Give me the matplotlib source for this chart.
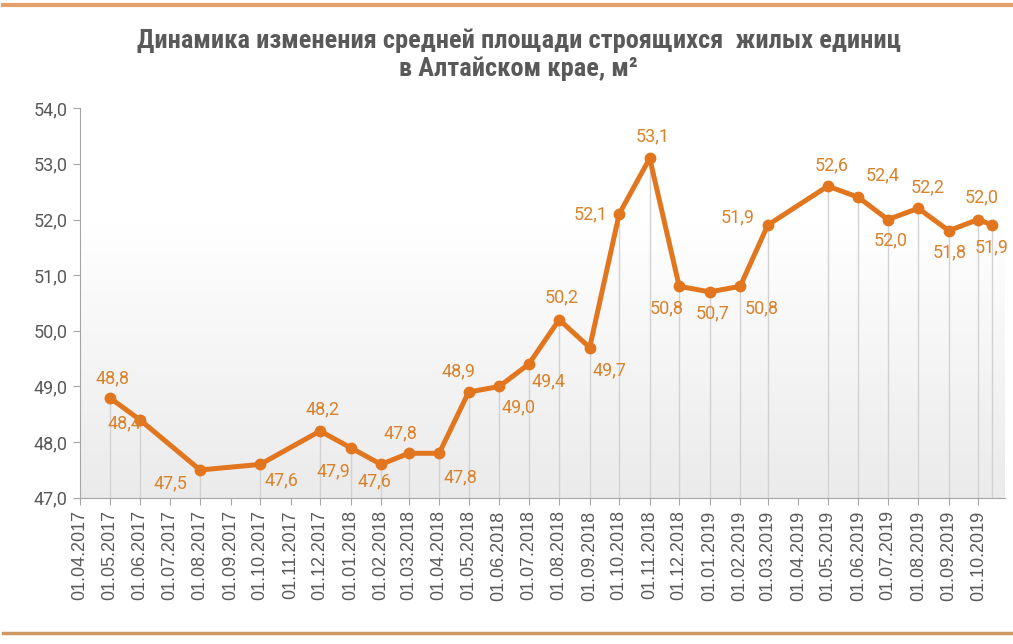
import matplotlib.pyplot as plt
import matplotlib.dates as mdates
import numpy as np
import pandas as pd

dates = ['2017-05-01', '2017-06-01', '2017-08-01', '2017-10-01', '2017-12-01',
         '2018-01-01', '2018-02-01', '2018-03-01', '2018-04-01', '2018-05-01',
         '2018-06-01', '2018-07-01', '2018-08-01', '2018-09-01', '2018-10-01',
         '2018-11-01', '2018-12-01', '2019-01-01', '2019-02-01', '2019-03-01',
         '2019-05-01', '2019-06-01', '2019-07-01', '2019-08-01', '2019-09-01',
         '2019-10-01', '2019-10-15']
values = [48.8, 48.4, 47.5, 47.6, 48.2,
          47.9, 47.6, 47.8, 47.8, 48.9,
          49.0, 49.4, 50.2, 49.7, 52.1,
          53.1, 50.8, 50.7, 50.8, 51.9,
          52.6, 52.4, 52.0, 52.2, 51.8,
          52.0, 51.9]
# label offsets in pixels (dx, dy), positive dy = up
offsets = [(3, 19), (-15, -3), (-30, -13), (21, -16), (2, 22),
           (-17, -24), (-7, -17), (-8, 20), (21, -24), (-10, 21),
           (19, -21), (20, -17), (2, 22), (20, -23), (-29, 0),
           (3, 22), (-13, -22), (3, -21), (21, -22), (-30, 8),
           (4, 21), (24, 22), (3, -21), (9, 21), (1, -22),
           (3, 22), (0, -22)]

title = "Динамика изменения средней площади строящихся  жилых единиц\nв Алтайском крае, м²"

x = pd.to_datetime(dates)
ticks = pd.date_range('2017-04-01', '2019-10-01', freq='MS')

fig = plt.figure(figsize=(10.13, 6.44), dpi=100)
ax = fig.add_axes([0.079, 0.227, 0.913, 0.605])

xmin = mdates.date2num(pd.Timestamp('2017-04-01'))
xmax = mdates.date2num(pd.Timestamp('2019-10-28'))

# gradient background: white at top, light grey at bottom
t = np.linspace(0, 1, 256)
shade = 1 - 0.08 * np.clip((t - 0.3) / 0.7, 0, 1)
grad = np.repeat(shade[:, None, None], 3, axis=2)
ax.imshow(grad, extent=[xmin, xmax, 47, 54], aspect='auto', zorder=0,
          origin='upper', interpolation='bilinear')

ax.vlines(x, 47, values, color='#d2d2d2', lw=1, zorder=1)
ax.plot(x, values, color='#E1761F', lw=3.6, marker='o', markersize=7.5, zorder=3,
        solid_joinstyle='round')

for xi, v, (dx, dy) in zip(x, values, offsets):
    ax.annotate(f"{v:.1f}".replace('.', ','), (xi, v), xytext=(dx, dy),
                textcoords='offset pixels', ha='center', va='center',
                fontsize=13, color='#D9822B', family=['Roboto', 'DejaVu Sans'], zorder=4)

ax.set_xlim(xmin, xmax)
ax.set_ylim(47, 54)
yt = np.arange(47, 54.1, 1)
ax.set_yticks(yt)
ax.set_yticklabels([f"{v:.1f}".replace('.', ',') for v in yt],
                   fontsize=13, color='#595959', family=['Roboto', 'DejaVu Sans'])
ax.set_xticks(ticks)
ax.set_xticklabels([d.strftime('%d.%m.%Y') for d in ticks], rotation=90,
                   fontsize=13, color='#595959', family=['Liberation Sans', 'DejaVu Sans'])

for s in ['top', 'right']:
    ax.spines[s].set_visible(False)
for s in ['left', 'bottom']:
    ax.spines[s].set_color('#a6a6a6')
ax.tick_params(axis='both', color='#a6a6a6', length=5, direction='out', pad=4)

fig.text(0.512, 0.915, title, ha='center', va='center', fontsize=19,
         fontweight='bold', color='#595959', linespacing=1.15,
         family=['Liberation Sans Narrow', 'Roboto Condensed', 'Liberation Sans', 'DejaVu Sans'])

fig.add_artist(plt.Line2D([0.003, 1], [1 - 5 / 644] * 2, color='#E3A06A', lw=3))
fig.add_artist(plt.Line2D([0.003, 1], [1 - 633 / 644] * 2, color='#CD9862', lw=2.5))

fig.savefig('out.png', dpi=100)
